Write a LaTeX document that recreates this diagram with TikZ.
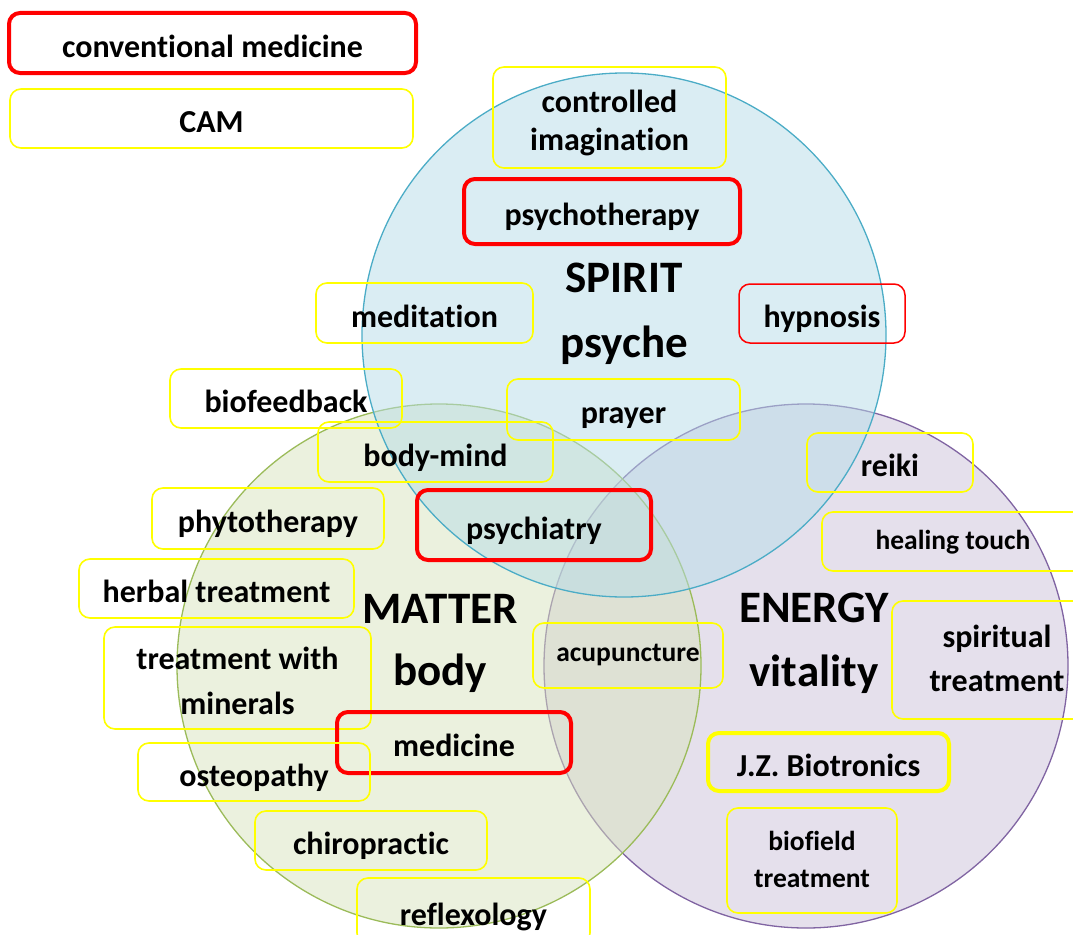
\documentclass[tikz,border=0pt]{standalone}
\usepackage{fontspec}
\setmainfont{Carlito}[Ligatures=NoCommon]
\usepackage{tikz}
\usetikzlibrary{positioning}

\definecolor{spiritfill}{RGB}{182,220,232}
\definecolor{spiritline}{RGB}{75,172,198}
\definecolor{matterfill}{RGB}{215,227,189}
\definecolor{matterline}{RGB}{155,187,89}
\definecolor{energyfill}{RGB}{203,193,217}
\definecolor{energyline}{RGB}{128,100,162}
\definecolor{camyellow}{RGB}{255,255,0}
\definecolor{convred}{RGB}{255,0,0}

\newcommand{\boxfont}{\fontsize{32}{38}\selectfont\bfseries}
\newcommand{\smallboxfont}{\fontsize{27.5}{37}\selectfont\bfseries}
\newcommand{\titlefont}{\fontsize{45}{50}\selectfont\bfseries}

\begin{document}
\begin{tikzpicture}[
    x=1pt, y=-1pt,
    sphere/.style={circle, minimum size=524pt, inner sep=0pt, line width=1.3pt, fill opacity=0.5},
    box/.style={rectangle, rounded corners=11pt, align=center, inner sep=0pt, font=\boxfont, text height=29pt, text depth=1pt},
    dims/.style 2 args={minimum width=#1pt, minimum height=#2pt},
    cam/.style={box, draw=camyellow, line width=1.6pt},
    conv/.style={box, draw=convred, line width=4pt},
    title/.style={anchor=base, font=\titlefont}
]
\useasboundingbox (0,0) rectangle (1073,934);
\clip (0,0) rectangle (1073,934);

% the three spheres
\node[sphere, draw=energyline, fill=energyfill] (energy) at (806,666) {};
\node[sphere, draw=matterline, fill=matterfill] (matter) at (439,666) {};
\node[sphere, draw=spiritline, fill=spiritfill] (spirit) at (624,335) {};

% legend
\node[conv, dims={407}{60}] (convleg) at (212.5,43) {conventional medicine};
\node[cam, dims={403}{59}] (camleg) at (211.5,118.5) {CAM};

% spirit
\node[cam, dims={233}{101}, text height=67pt] (imagination) at (609.5,117.5) {controlled\\imagination};
\node[conv, dims={276}{65}] (psychotherapy) at (602,211.5) {psychotherapy};
\node[cam, dims={217}{60}] (meditation) at (424.5,313) {meditation};
\node[conv, line width=1.5pt, dims={166}{59}] (hypnosis) at (822,313.5) {hypnosis};
\node[cam, dims={233}{61}] (prayer) at (623.5,409.5) {prayer};
\node[title] (spirittitle) at (624,292) {SPIRIT};
\node[title] (psyche) at (624,357) {psyche};

% matter
\node[cam, dims={232}{59}] (biofeedback) at (286,398.5) {biofeedback};
\node[cam, dims={235}{60}] (bodymind) at (435.5,452) {body-mind};
\node[conv, dims={234}{70}] (psychiatry) at (534,525) {psychiatry};
\node[cam, dims={232}{61}] (phytotherapy) at (268,518.5) {phytotherapy};
\node[cam, dims={275}{59}] (herbal) at (216.5,588.5) {herbal treatment};
\node[cam, dims={267}{102}, text height=74pt] (minerals) at (237.5,678) {treatment with\\[7pt]minerals};
\node[conv, dims={234}{61}] (medicine) at (454,742.5) {medicine};
\node[cam, dims={232}{58}] (osteopathy) at (254,772) {osteopathy};
\node[cam, dims={232}{59}] (chiropractic) at (371,840.5) {chiropractic};
\node[cam, dims={233}{66}] (reflexology) at (473.5,911) {reflexology};
\node[title] (mattertitle) at (440,623) {MATTER};
\node[title] (body) at (440,685) {body};

% energy
\node[cam, dims={190}{65}, font=\smallboxfont, text height=13pt] (acupuncture) at (628,655.5) {acupuncture};
\node[cam, dims={166}{59}] (reiki) at (890,462.5) {reiki};
\node[cam, dims={262}{59}, font=\smallboxfont, text height=17pt] (healing) at (953,541.5) {healing touch};
\node[cam, dims={210}{118}, text height=64pt] (spiritual) at (997,660) {spiritual\\[6pt]treatment};
\node[cam, line width=4pt, dims={241}{58}] (biotronics) at (828.5,762) {J.Z. Biotronics};
\node[cam, dims={170}{105}, font=\smallboxfont, text height=54pt] (biofield) at (812,860.5) {biofield\\treatment};
\node[title] (energytitle) at (814,622) {ENERGY};
\node[title] (vitality) at (814,686) {vitality};

\end{tikzpicture}
\end{document}
